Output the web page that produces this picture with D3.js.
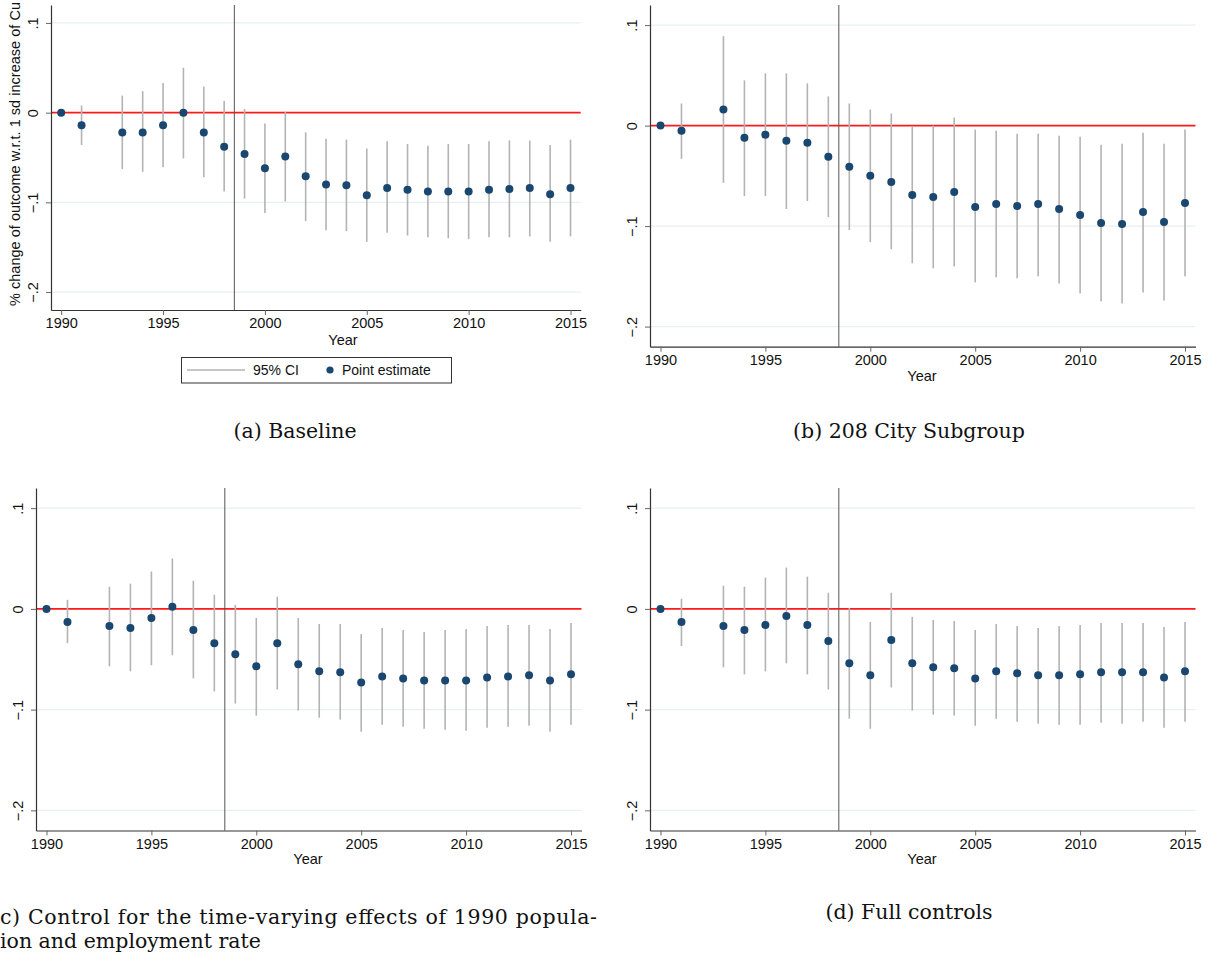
<!DOCTYPE html>
<html>
<head>
<meta charset="utf-8">
<script src="https://cdn.jsdelivr.net/npm/d3@7.9.0/dist/d3.min.js"></script>
<style>
  html, body { margin: 0; padding: 0; background: #fff; }
  svg { display: block; }
  .tick text, .lab { font-family: "Liberation Sans", Arial, sans-serif; fill: #111; }
  .cap { font-family: "DejaVu Serif", "Liberation Serif", serif; fill: #111; }
</style>
</head>
<body>
<svg id="chart" width="1214" height="958"></svg>
<script>
// event-study years (1992 is omitted)
const years = [1990, 1991, 1993, 1994, 1995, 1996, 1997, 1998, 1999, 2000, 2001, 2002, 2003,
  2004, 2005, 2006, 2007, 2008, 2009, 2010, 2011, 2012, 2013, 2014, 2015];

// (a) Baseline
const baseEst = [0, -0.014, -0.022, -0.022, -0.014, 0.000, -0.022, -0.038, -0.046, -0.062, -0.049, -0.071, -0.080,
  -0.081, -0.092, -0.084, -0.086, -0.088, -0.088, -0.088, -0.086, -0.085, -0.084, -0.091, -0.084];
const baseHi = [0, 0.008, 0.019, 0.024, 0.033, 0.050, 0.029, 0.013, 0.004, -0.012, 0.001, -0.022, -0.029,
  -0.030, -0.040, -0.032, -0.035, -0.037, -0.035, -0.035, -0.032, -0.031, -0.031, -0.036, -0.030];
const baseLo = [0, -0.036, -0.063, -0.066, -0.061, -0.051, -0.072, -0.088, -0.096, -0.112, -0.099, -0.121, -0.131,
  -0.132, -0.144, -0.134, -0.137, -0.139, -0.140, -0.141, -0.139, -0.139, -0.138, -0.144, -0.138];

// (b) 208 City Subgroup
const cityEst = [0, -0.005, 0.016, -0.012, -0.009, -0.015, -0.017, -0.031, -0.041, -0.050, -0.056, -0.069, -0.071,
  -0.066, -0.081, -0.078, -0.080, -0.078, -0.083, -0.089, -0.097, -0.098, -0.086, -0.096, -0.077];
const cityHi = [0, 0.022, 0.089, 0.045, 0.052, 0.052, 0.042, 0.029, 0.022, 0.016, 0.012, -0.001, 0.000,
  0.008, -0.004, -0.005, -0.008, -0.008, -0.010, -0.011, -0.019, -0.018, -0.007, -0.018, -0.004];
const cityLo = [0, -0.033, -0.057, -0.070, -0.070, -0.083, -0.075, -0.091, -0.104, -0.116, -0.123, -0.137, -0.142,
  -0.140, -0.156, -0.151, -0.152, -0.150, -0.157, -0.167, -0.175, -0.177, -0.166, -0.174, -0.150];

// (c) Control for 1990 population and employment rate
const popEst = [0, -0.013, -0.017, -0.019, -0.009, 0.002, -0.021, -0.034, -0.045, -0.057, -0.034, -0.055, -0.062,
  -0.063, -0.073, -0.067, -0.069, -0.071, -0.071, -0.071, -0.068, -0.067, -0.066, -0.071, -0.065];
const popHi = [0, 0.009, 0.022, 0.025, 0.037, 0.050, 0.028, 0.014, 0.004, -0.009, 0.012, -0.009, -0.015,
  -0.015, -0.025, -0.019, -0.021, -0.023, -0.021, -0.020, -0.017, -0.016, -0.016, -0.020, -0.014];
const popLo = [0, -0.034, -0.057, -0.062, -0.056, -0.046, -0.069, -0.082, -0.094, -0.106, -0.080, -0.101, -0.108,
  -0.110, -0.122, -0.115, -0.117, -0.119, -0.120, -0.121, -0.118, -0.117, -0.116, -0.122, -0.115];

// (d) Full controls
const fullEst = [0, -0.013, -0.017, -0.021, -0.016, -0.007, -0.016, -0.032, -0.054, -0.066, -0.031, -0.054, -0.058,
  -0.059, -0.069, -0.062, -0.064, -0.066, -0.066, -0.065, -0.063, -0.063, -0.063, -0.068, -0.062];
const fullHi = [0, 0.010, 0.023, 0.022, 0.031, 0.041, 0.032, 0.016, 0.001, -0.013, 0.016, -0.008, -0.011,
  -0.012, -0.021, -0.015, -0.017, -0.019, -0.017, -0.016, -0.014, -0.014, -0.014, -0.018, -0.013];
const fullLo = [0, -0.037, -0.058, -0.065, -0.062, -0.054, -0.065, -0.080, -0.109, -0.119, -0.078, -0.101, -0.105,
  -0.106, -0.116, -0.109, -0.112, -0.114, -0.115, -0.115, -0.113, -0.114, -0.112, -0.118, -0.112];

const xTicks = [1990, 1995, 2000, 2005, 2010, 2015];
const yTicks = [0.1, 0, -0.1, -0.2];
const yTickLabels = ['.1', '0', '\u2212.1', '\u2212.2'];
const treatYear = 1998.5;
const yTitle = '% change of outcome w.r.t. 1 sd increase of Cu';
const legendLabels = ['95% CI', 'Point estimate'];

const navy = '#1a476f';
const ciGray = '#b3b3b3';

const svg = d3.select('#chart');

// panel boxes (plot region) and where their titles sit
const panels = [
  { est: baseEst, lo: baseLo, hi: baseHi, left: 51, right: 580.7, top: 5, bottom: 310, yearX: 343, yearY: 345, yTitle: true, legend: true },
  { est: cityEst, lo: cityLo, hi: cityHi, left: 650, right: 1195.5, top: 5, bottom: 346.7, yearX: 922, yearY: 381 },
  { est: popEst, lo: popLo, hi: popHi, left: 36, right: 581.5, top: 488, bottom: 830.5, yearX: 308, yearY: 864 },
  { est: fullEst, lo: fullLo, hi: fullHi, left: 650, right: 1195.5, top: 488, bottom: 830.5, yearX: 922, yearY: 864 }
];

function drawPanel(p) {
  let x = d3.scaleLinear().domain([1989.5, 2015.5]).range([p.left, p.right]);
  let y = d3.scaleLinear().domain([-0.22, 0.12]).range([p.bottom, p.top]);
  let g = svg.append('g');

  // grid lines
  g.selectAll('.grid')
    .data(yTicks.filter((d) => d !== 0))
    .join('line')
    .attr('x1', p.left).attr('x2', p.right)
    .attr('y1', (d) => y(d)).attr('y2', (d) => y(d))
    .attr('stroke', '#e6eff1').attr('stroke-width', 1.2);

  // zero line
  g.append('line')
    .attr('x1', p.left).attr('x2', p.right)
    .attr('y1', y(0)).attr('y2', y(0))
    .attr('stroke', '#ff1a1a').attr('stroke-width', 1.6);

  // treatment line
  g.append('line')
    .attr('x1', x(treatYear)).attr('x2', x(treatYear))
    .attr('y1', p.top).attr('y2', p.bottom)
    .attr('stroke', '#555').attr('stroke-width', 1);

  // confidence intervals
  g.selectAll('.ci')
    .data(years)
    .join('line')
    .attr('x1', (d) => x(d)).attr('x2', (d) => x(d))
    .attr('y1', (d, i) => y(p.hi[i])).attr('y2', (d, i) => y(p.lo[i]))
    .attr('stroke', ciGray).attr('stroke-width', 1.6);

  // point estimates
  g.selectAll('.pt')
    .data(years)
    .join('circle')
    .attr('cx', (d) => x(d))
    .attr('cy', (d, i) => y(p.est[i]))
    .attr('r', 4)
    .attr('fill', navy);

  // axes
  let xAxis = g.append('g')
    .attr('transform', `translate(0,${p.bottom})`)
    .call(d3.axisBottom(x).tickValues(xTicks).tickFormat(d3.format('d')).tickSize(5).tickSizeOuter(0).tickPadding(3));
  xAxis.select('.domain').attr('stroke', '#333').attr('stroke-width', 1.2);
  xAxis.selectAll('.tick line').attr('stroke', '#666');
  xAxis.selectAll('.tick text').attr('font-size', 14.5).attr('dy', '0.71em');

  let yAxis = g.append('g')
    .attr('transform', `translate(${p.left},0)`)
    .call(d3.axisLeft(y).tickValues(yTicks).tickFormat((d, i) => yTickLabels[i]).tickSize(5).tickSizeOuter(0));
  yAxis.select('.domain').attr('stroke', '#333').attr('stroke-width', 1.2);
  yAxis.selectAll('.tick line').attr('stroke', '#666');
  yAxis.selectAll('.tick text')
    .attr('font-size', 14.5)
    .attr('text-anchor', 'middle')
    .attr('x', 0).attr('y', -13).attr('dy', 0)
    .attr('transform', 'rotate(-90)');

  g.append('text')
    .attr('class', 'lab')
    .attr('x', p.yearX).attr('y', p.yearY)
    .attr('text-anchor', 'middle')
    .attr('font-size', 14.5)
    .text('Year');

  if (p.yTitle) {
    g.append('text')
      .attr('class', 'lab')
      .attr('transform', `translate(20,306) rotate(-90)`)
      .attr('font-size', 14.5)
      .attr('textLength', 304)
      .text(yTitle);
  }

  if (p.legend) {
    let lg = g.append('g');
    lg.append('rect')
      .attr('x', 181.5).attr('y', 357.5).attr('width', 270).attr('height', 25.5)
      .attr('fill', '#fff').attr('stroke', '#333').attr('stroke-width', 1);
    lg.append('line')
      .attr('x1', 187).attr('x2', 245).attr('y1', 370).attr('y2', 370)
      .attr('stroke', ciGray).attr('stroke-width', 1.4);
    lg.append('text').attr('class', 'lab').attr('x', 253).attr('y', 375)
      .attr('font-size', 14).text(legendLabels[0]);
    lg.append('circle').attr('cx', 330).attr('cy', 370).attr('r', 3.6).attr('fill', navy);
    lg.append('text').attr('class', 'lab').attr('x', 342).attr('y', 375)
      .attr('font-size', 14).text(legendLabels[1]);
  }
}

panels.forEach(drawPanel);

// sub-figure captions (caption c starts at the page's left edge, as cropped in the source)
const captions = [
  { text: '(a) Baseline', x: 295, y: 438, anchor: 'middle' },
  { text: '(b) 208 City Subgroup', x: 909, y: 438, anchor: 'middle' },
  { text: 'c) Control for the time-varying effects of 1990 popula-', x: 0, y: 924, anchor: 'start', width: 597 },
  { text: 'ion and employment rate', x: 0, y: 948, anchor: 'start' },
  { text: '(d) Full controls', x: 909, y: 919, anchor: 'middle' }
];

svg.selectAll('.cap')
  .data(captions)
  .join('text')
  .attr('class', 'cap')
  .attr('x', (d) => d.x).attr('y', (d) => d.y)
  .attr('text-anchor', (d) => d.anchor)
  .attr('font-size', 20.5)
  .attr('textLength', (d) => d.width || null)
  .attr('lengthAdjust', 'spacing')
  .text((d) => d.text);
</script>
</body>
</html>
